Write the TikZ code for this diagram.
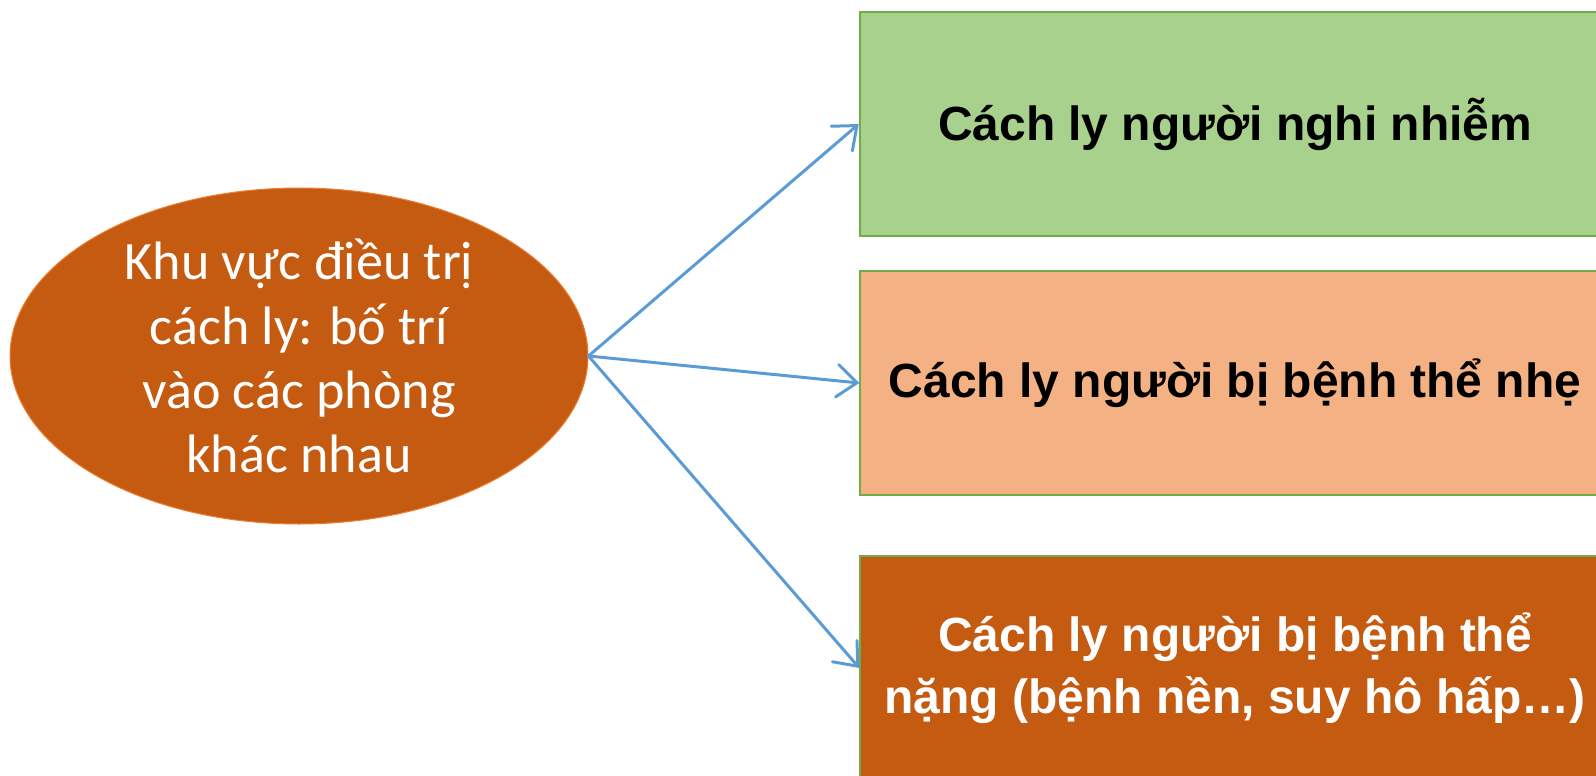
\documentclass[tikz,border=0pt]{standalone}
\usepackage{fontspec}
\setmainfont{Liberation Sans}
\newfontfamily\ovalfont{Carlito}
\usetikzlibrary{shapes.geometric,arrows.meta}
\definecolor{rust}{HTML}{C55A11}
\definecolor{leaf}{HTML}{A9D18E}
\definecolor{leafline}{HTML}{70AD47}
\definecolor{peach}{HTML}{F4B183}
\definecolor{ovalline}{HTML}{ED7D31}
\definecolor{link}{HTML}{5B9BD5}
\tikzset{
	roombox/.style={rectangle,draw=leafline,line width=0.8pt,minimum width=15cm,minimum height=4.48cm,
		align=center,font=\fontsize{27.3}{35}\selectfont\bfseries},
	link/.style={draw=link,line width=1.7pt,line cap=round,
		-{Straight Barb[length=0.4cm,width=0.65cm,line cap=round]}}
}
\begin{document}
\begin{tikzpicture}[x=0.02cm,y=-0.02cm]
	\useasboundingbox (0,0) rectangle (1596,775);
	\clip (0,0) rectangle (1596,775);
	\node [ellipse,fill=rust,draw=ovalline,line width=0.6pt,inner sep=0pt,minimum width=11.56cm,minimum height=6.72cm,
		text=white,align=center,font=\ovalfont\fontsize{30.8}{36.5}\selectfont] (zone) at (299,356)
		{Khu vực điều trị\\cách ly: bố trí\\vào các phòng\\khác nhau};
	\node [roombox,fill=leaf,line width=1.5pt] (suspect) at (1235,124) {Cách ly người nghi nhiễm};
	\node [roombox,fill=peach] (mild) at (1235,383) {Cách ly người bị bệnh thể nhẹ};
	\node [roombox,fill=rust,text=white] (severe) at (1235,668) {Cách ly người bị bệnh thể\\nặng (bệnh nền, suy hô hấp…)};
	\draw [link] (zone.east) -- (suspect.west);
	\draw [link] (zone.east) -- (mild.west);
	\draw [link] (zone.east) -- (severe.west);
\end{tikzpicture}
\end{document}
